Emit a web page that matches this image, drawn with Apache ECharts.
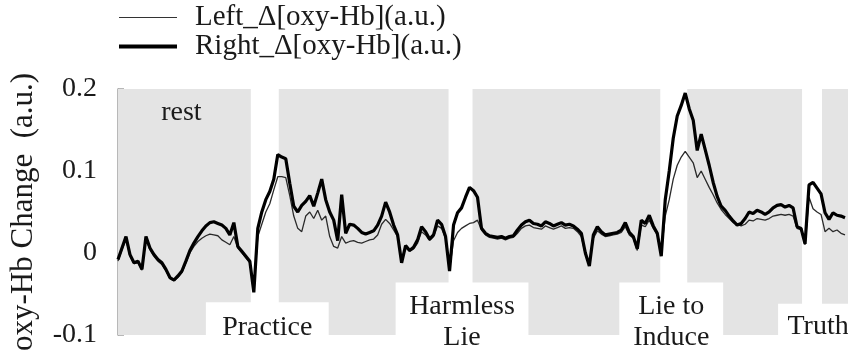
<!DOCTYPE html>
<html>
<head>
<meta charset="utf-8">
<title>oxy-Hb change</title>
<script src="https://cdn.jsdelivr.net/npm/echarts@6/dist/echarts.min.js"></script>
<style>
  html, body { margin: 0; padding: 0; background: #fff; }
  #main { width: 848px; height: 354px; }
</style>
</head>
<body>
<div id="main"></div>
<script>
// one sample every 4 time units
const sampleStep = 4;

const rightHb = [
  -0.008, 0.006, 0.02, -0.002, -0.012, -0.01, -0.02, 0.02, 0.006, -0.002,
  -0.008, -0.012, -0.02, -0.03, -0.033, -0.028, -0.022, -0.01, 0.003, 0.012,
  0.02, 0.027, 0.033, 0.037, 0.038, 0.036, 0.034, 0.03, 0.022, 0.037,
  0.008, 0.002, -0.004, -0.01, -0.048, 0.03, 0.05, 0.065, 0.075, 0.09,
  0.12, 0.117, 0.115, 0.085, 0.057, 0.05, 0.058, 0.063, 0.07, 0.057,
  0.073, 0.09, 0.065, 0.05, 0.04, 0.015, 0.071, 0.024, 0.035, 0.034,
  0.03, 0.025, 0.023, 0.025, 0.027, 0.034, 0.045, 0.062, 0.05, 0.034,
  0.022, -0.012, 0.009, 0.003, 0.007, 0.016, 0.032, 0.026, 0.017, 0.022,
  0.04, 0.035, 0.02, -0.022, 0.034, 0.049, 0.055, 0.068, 0.08, 0.076,
  0.068, 0.03, 0.024, 0.021, 0.02, 0.019, 0.02, 0.018, 0.02, 0.021,
  0.028, 0.034, 0.038, 0.04, 0.036, 0.035, 0.033, 0.038, 0.036, 0.033,
  0.035, 0.037, 0.034, 0.035, 0.033, 0.029, 0.024, 0.0, -0.016, 0.022,
  0.032, 0.026, 0.022, 0.023, 0.024, 0.025, 0.028, 0.037, 0.025, 0.02,
  0.005, 0.04, 0.036, 0.046, 0.033, 0.024, -0.004, 0.065, 0.1, 0.14,
  0.167, 0.18, 0.195, 0.176, 0.162, 0.125, 0.145, 0.126, 0.107, 0.086,
  0.069, 0.057, 0.052, 0.045, 0.039, 0.034, 0.036, 0.042, 0.05, 0.048,
  0.052, 0.05, 0.047, 0.05, 0.055, 0.058, 0.059, 0.056, 0.058, 0.055,
  0.032, 0.03, 0.011, 0.083, 0.086, 0.079, 0.072, 0.049, 0.041, 0.049,
  0.046, 0.045, 0.043
];

const leftHb = [
  -0.01, 0.004, 0.017, -0.004, -0.013, -0.012, -0.021, 0.017, 0.004, -0.004,
  -0.01, -0.014, -0.022, -0.031, -0.034, -0.03, -0.024, -0.012, 0.0, 0.008,
  0.014, 0.018, 0.021, 0.023, 0.022, 0.021, 0.016, 0.013, 0.01, 0.02,
  0.006, 0.0, -0.006, -0.012, -0.045, 0.02, 0.035, 0.05, 0.06, 0.077,
  0.093, 0.093, 0.092, 0.07, 0.045, 0.03, 0.026, 0.045, 0.05, 0.042,
  0.052, 0.04, 0.045, 0.02, 0.008, 0.006, 0.02, 0.012, 0.014, 0.015,
  0.013, 0.012, 0.014, 0.016, 0.017, 0.022, 0.035, 0.041, 0.036, 0.028,
  0.02, -0.01, 0.007, 0.002, 0.005, 0.012, 0.026, 0.022, 0.015, 0.02,
  0.033, 0.03, 0.018, -0.02, 0.015, 0.025, 0.03, 0.033, 0.036, 0.037,
  0.04, 0.028, 0.022, 0.019, 0.018, 0.017, 0.018, 0.016, 0.018, 0.019,
  0.024, 0.03, 0.033, 0.034, 0.031, 0.03, 0.029, 0.033, 0.031, 0.029,
  0.031, 0.033, 0.03, 0.031, 0.03, 0.026, 0.02, -0.002, -0.014, 0.018,
  0.027, 0.023, 0.02, 0.021, 0.022, 0.023, 0.025, 0.032, 0.022, 0.018,
  0.003, 0.034, 0.032, 0.04, 0.03, 0.022, 0.0, 0.045, 0.065, 0.09,
  0.107, 0.117, 0.124, 0.117, 0.11, 0.092, 0.1, 0.09, 0.08, 0.071,
  0.061, 0.053, 0.047, 0.042, 0.037, 0.035, 0.033, 0.035, 0.04, 0.039,
  0.042, 0.041, 0.04, 0.042, 0.045, 0.046, 0.047, 0.046, 0.047, 0.045,
  0.03, 0.028, 0.01, 0.068, 0.054, 0.05, 0.047, 0.026, 0.03, 0.026,
  0.028, 0.024, 0.022
];

// rest periods (shaded) and task label boxes, in time units
const restBlocks = [[0, 133], [161, 331], [355, 543], [570, 685], [705, 731]];
const taskNames = ['Practice', 'Harmless\nLie', 'Lie to\nInduce', 'Truth'];
const taskBoxes = [[88, 211, -0.06], [278, 411, -0.036], [502, 606, -0.036], [661, 731, -0.062]];

const serif = "'Liberation Serif', 'Times New Roman', serif";
const ink = '#1a1a1a';

const chartDom = document.getElementById('main');
const myChart = echarts.init(chartDom);

const toPairs = arr => arr.map((v, i) => [i * sampleStep, v]);

// where each label sits inside its box (px from the box's top-left)
const labelPos = [['50%', 25], ['50%', 40], ['50%', 40], [40, 23]];

const option = {
  animation: false,
  grid: { left: 117, right: 0, top: 89, bottom: 18, containLabel: false },
  legend: {
    orient: 'vertical',
    left: 117,
    top: 3,
    padding: 0,
    itemWidth: 58,
    itemHeight: 14,
    itemGap: 0,
    itemStyle: { opacity: 0 },
    data: [
      { name: 'Left_Δ[oxy-Hb](a.u.)', lineStyle: { width: 1.2, color: '#333' } },
      { name: 'Right_Δ[oxy-Hb](a.u.)', lineStyle: { width: 4, color: '#000' } }
    ],
    textStyle: { fontFamily: serif, fontSize: 29, color: ink, lineHeight: 26, padding: [0, 0, 0, 13] }
  },
  xAxis: { type: 'value', min: 0, max: 731, show: false },
  yAxis: {
    type: 'value',
    min: -0.1,
    max: 0.2,
    interval: 0.1,
    name: 'oxy-Hb Change  (a.u.)',
    nameLocation: 'middle',
    nameRotate: 90,
    nameGap: 79,
    nameTextStyle: { fontFamily: serif, fontSize: 31, color: ink },
    axisLine: { show: true, lineStyle: { color: '#a0a0a0', width: 1.5 } },
    axisTick: { show: true, inside: true, length: 6, lineStyle: { color: '#a0a0a0', width: 1.5 } },
    axisLabel: { fontFamily: serif, fontSize: 28, color: ink, margin: 21 },
    splitLine: { show: false }
  },
  series: [
    {
      name: 'rest',
      type: 'line',
      data: [],
      z: 1,
      silent: true,
      markArea: {
        silent: true,
        itemStyle: { color: '#e4e4e4' },
        data: restBlocks.map((b, i) => [
          {
            xAxis: b[0], yAxis: 0.2,
            label: i === 0 ? {
              show: true, formatter: 'rest', position: ['50%', 24], offset: [-3, 0],
              align: 'center', verticalAlign: 'middle',
              fontFamily: serif, fontSize: 28, color: ink
            } : { show: false }
          },
          { xAxis: b[1], yAxis: -0.1 }
        ])
      }
    },
    {
      name: 'tasks',
      type: 'line',
      data: [],
      z: 2,
      silent: true,
      markArea: {
        silent: true,
        itemStyle: { color: '#ffffff' },
        data: taskBoxes.map((b, i) => [
          {
            xAxis: b[0], yAxis: b[2],
            label: {
              show: true, formatter: taskNames[i], position: labelPos[i],
              align: 'center', verticalAlign: 'middle',
              fontFamily: serif, fontSize: 28, lineHeight: 31, color: ink
            }
          },
          { xAxis: b[1], yAxis: -0.1 }
        ])
      }
    },
    {
      name: 'Left_Δ[oxy-Hb](a.u.)',
      type: 'line',
      z: 3,
      symbol: 'none',
      showSymbol: false,
      data: toPairs(leftHb),
      lineStyle: { color: '#2a2a2a', width: 1.3 },
      itemStyle: { color: '#2a2a2a' }
    },
    {
      name: 'Right_Δ[oxy-Hb](a.u.)',
      type: 'line',
      z: 4,
      symbol: 'none',
      showSymbol: false,
      data: toPairs(rightHb),
      lineStyle: { color: '#000000', width: 3.2 },
      itemStyle: { color: '#000000' }
    }
  ]
};

myChart.setOption(option);

window.addEventListener('resize', () => myChart.resize());
</script>
</body>
</html>
